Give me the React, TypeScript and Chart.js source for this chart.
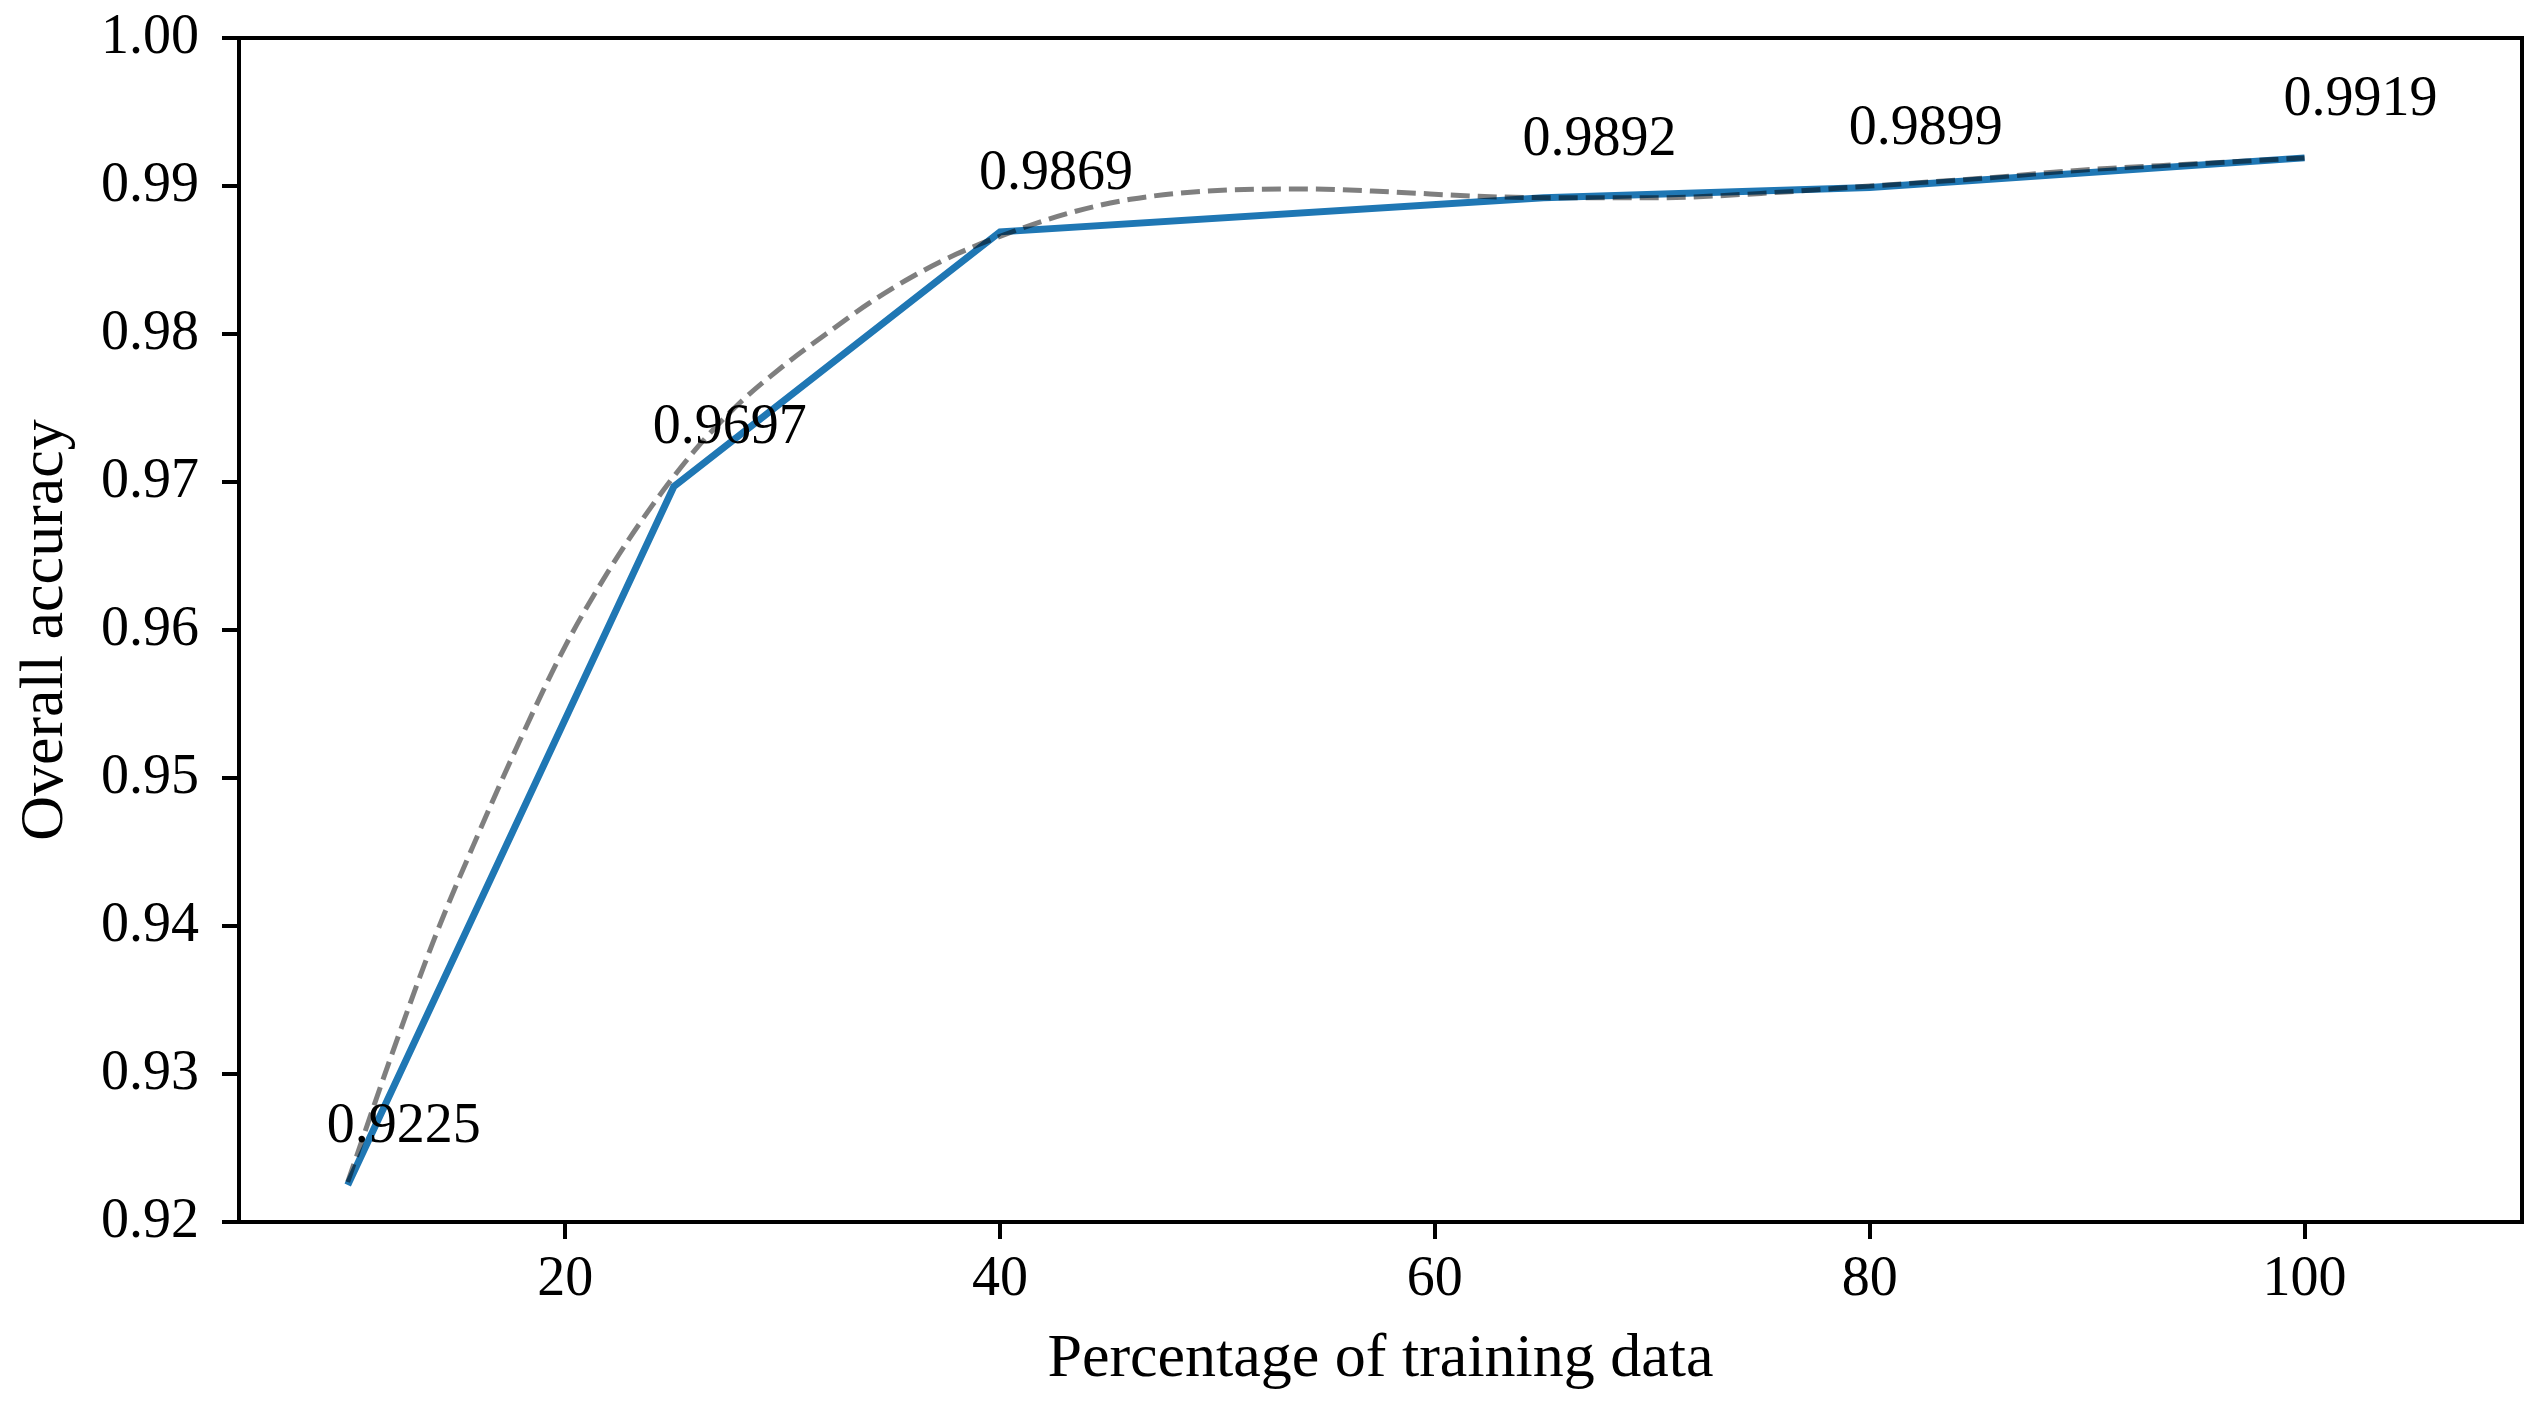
import React, { useEffect, useRef } from "react";
import { Chart, registerables } from "chart.js";

Chart.register(...registerables);

// Measured accuracy
const PCT_TRAIN = [10, 25, 40, 65, 80, 100];
const ACCURACY = [0.9225, 0.9697, 0.9869, 0.9892, 0.9899, 0.9919];
const POINT_LABELS = ["0.9225", "0.9697", "0.9869", "0.9892", "0.9899", "0.9919"];

// Fitted trend curve
const FIT_X = [10, 12, 14, 16, 18, 20, 22, 24, 26, 28, 30, 32, 34, 36, 38, 40, 43, 46, 50, 54, 58, 62, 66, 70, 75, 80, 85, 90, 95, 100];
const FIT_Y = [0.9227, 0.9312, 0.9392, 0.9462, 0.9528, 0.9589, 0.964, 0.9684, 0.9722, 0.9753, 0.9778, 0.98, 0.9821, 0.9839, 0.9854, 0.9866, 0.9881, 0.9891, 0.9897, 0.9898, 0.9896, 0.9893, 0.9892, 0.9892, 0.9895, 0.99, 0.9905, 0.9911, 0.9915, 0.9919];

// Axis ticks
const X_TICKS = [20, 40, 60, 80, 100];
const Y_TICKS = [0.92, 0.93, 0.94, 0.95, 0.96, 0.97, 0.98, 0.99, 1.0];

const FONT = "'Liberation Serif', 'Times New Roman', serif";

export default function App() {
  const ref = useRef<HTMLCanvasElement | null>(null);

  useEffect(() => {
    if (!ref.current) return;
    const framePlugin = {
      id: "frame",
      afterDraw(chart: any) {
        const { ctx, chartArea } = chart;
        ctx.save();
        ctx.strokeStyle = "#000";
        ctx.lineWidth = 4;
        ctx.strokeRect(chartArea.left, chartArea.top, chartArea.right - chartArea.left, chartArea.bottom - chartArea.top);
        ctx.restore();
      },
      afterDatasetsDraw(chart: any) {
        const { ctx } = chart;
        const xs = chart.scales.x;
        const ys = chart.scales.y;
        ctx.save();
        ctx.fillStyle = "#000";
        ctx.font = `56px ${FONT}`;
        ctx.textAlign = "left";
        ctx.textBaseline = "alphabetic";
        PCT_TRAIN.forEach((x, i) => {
          const px = xs.getPixelForValue(x);
          const py = ys.getPixelForValue(ACCURACY[i]);
          ctx.fillText(POINT_LABELS[i], px - 21, py - 43);
        });
        ctx.restore();
      },
    };

    const chart = new Chart(ref.current, {
      type: "line",
      data: {
        datasets: [
          {
            label: "fit",
            data: FIT_X.map((x, i) => ({ x, y: FIT_Y[i] })),
            borderColor: "rgba(0,0,0,0.5)",
            borderWidth: 5,
            borderDash: [19, 8],
            pointRadius: 0,
            fill: false,
            cubicInterpolationMode: "monotone",
            order: 0,
          },
          {
            label: "accuracy",
            data: PCT_TRAIN.map((x, i) => ({ x, y: ACCURACY[i] })),
            borderColor: "#1f77b4",
            borderWidth: 7,
            pointRadius: 0,
            fill: false,
            tension: 0,
            order: 1,
          },
        ],
      },
      options: {
        responsive: false,
        animation: false,
        devicePixelRatio: 1,
        layout: { padding: { top: 38, right: 22, left: 0, bottom: 0 } },
        plugins: {
          legend: { display: false },
          tooltip: { enabled: false },
        },
        scales: {
          x: {
            type: "linear",
            min: 5,
            max: 110,
            afterBuildTicks: (s: any) => {
              s.ticks = X_TICKS.map((v) => ({ value: v }));
            },
            afterFit: (s: any) => {
              s.height = 188;
              s.paddingLeft = 0;
              s.paddingRight = 0;
            },
            border: { display: false },
            grid: {
              drawOnChartArea: false,
              drawTicks: true,
              tickLength: 17,
              tickWidth: 4,
              tickColor: "#000",
              color: "#000",
              lineWidth: 4,
            },
            ticks: {
              color: "#000",
              font: { family: FONT, size: 56 },
              padding: 8,
              maxRotation: 0,
              autoSkip: false,
              callback: (v: any) => String(v),
            },
            title: {
              display: true,
              text: "Percentage of training data",
              color: "#000",
              font: { family: FONT, size: 62 },
              padding: { top: 0, bottom: 13 },
            },
          },
          y: {
            type: "linear",
            min: 0.92,
            max: 1.0,
            afterBuildTicks: (s: any) => {
              s.ticks = Y_TICKS.map((v) => ({ value: v }));
            },
            afterFit: (s: any) => {
              s.width = 239;
              s.paddingTop = 0;
              s.paddingBottom = 0;
            },
            border: { display: false },
            grid: {
              drawOnChartArea: false,
              drawTicks: true,
              tickLength: 17,
              tickWidth: 4,
              tickColor: "#000",
              color: "#000",
              lineWidth: 4,
            },
            ticks: {
              color: "#000",
              font: { family: FONT, size: 56 },
              padding: 23,
              autoSkip: false,
              callback: (v: any) => Number(v).toFixed(2),
            },
            title: {
              display: true,
              text: "Overall accuracy",
              color: "#000",
              font: { family: FONT, size: 62 },
              padding: { top: 9, bottom: 0 },
            },
          },
        },
      },
      plugins: [framePlugin],
    } as any);

    return () => chart.destroy();
  }, []);

  return (
    <div style={{ position: "absolute", left: 0, top: 0, width: 2544, height: 1410, background: "#fff" }}>
      <canvas ref={ref} width={2544} height={1410} style={{ width: 2544, height: 1410, display: "block" }} />
    </div>
  );
}
